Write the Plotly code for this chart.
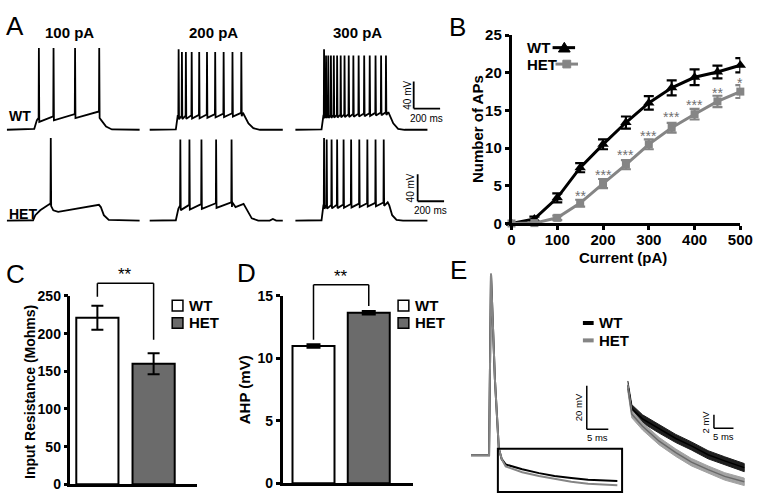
import numpy as np
import plotly.graph_objects as go

# ---------------- DATA ----------------
# Panel A: current-clamp traces (time in ms, membrane potential in mV)
# each trace: subthreshold envelope breakpoints + spike times + spike peaks
wt100_env_t = [0, 207, 227, 240, 697, 714, 751, 795, 1005]
wt100_env_v = [-72, -70.6, -57.7, -54.4, -44.9, -57.7, -67.2, -71.5, -72]
wt100_spk = [240, 351, 514, 697]
wt100_pk = [49, 49, 49, 49]

wt200_env_t = [0, 198, 212, 706, 724, 748, 785, 835, 1008]
wt200_env_v = [-72, -71.5, -51.5, -46.8, -53, -62.5, -69.6, -72, -72]
wt200_spk = [217, 242, 272, 316, 373, 432, 494, 558, 625, 692]
wt200_pk = [47, 43, 43, 43, 43, 43, 43, 43, 43, 43]

wt300_env_t = [0, 198, 212, 704, 716, 741, 778, 827, 1000]
wt300_env_v = [-72, -71.5, -51, -46, -51, -62.5, -70.6, -72, -72]
wt300_spk = [215, 230, 247, 267, 289, 314, 341, 370, 402, 437, 477, 519, 561, 605, 647, 684]
wt300_pk = [47] + [38] * 15

het100_env_t = [0, 198, 215, 252, 289, 326, 351, 388, 697, 711, 734, 771, 1005]
het100_env_v = [-72, -71.5, -64, -56.8, -52, -47.2, -56.8, -59, -48.7, -52, -64, -71, -72]
het100_spk = [330]
het100_pk = [50]

het200_env_t = [0, 198, 217, 230, 625, 650, 711, 736, 773, 822, 909, 933, 958, 1008]
het200_env_v = [-72, -71.5, -54.4, -49.6, -44.9, -52, -47.2, -56.8, -68.7, -72, -72, -69.6, -72, -72]
het200_spk = [230, 299, 390, 501, 618]
het200_pk = [48, 48, 48, 48, 48]

het300_env_t = [0, 198, 212, 699, 711, 733, 766, 815, 1000]
het300_env_v = [-72, -71.5, -49.6, -44.9, -49.6, -64, -71, -72, -72]
het300_spk = [215, 235, 272, 314, 363, 420, 482, 543, 605, 667]
het300_pk = [50] + [48] * 9

a_currents = ["100 pA", "200 pA", "300 pA"]
a_genotypes = ["WT", "HET"]

# Panel B: number of APs vs injected current
current_pA = [0, 50, 100, 150, 200, 250, 300, 350, 400, 450, 500]
wt_aps = [0, 0.6, 3.4, 7.4, 10.5, 13.4, 16.0, 18.0, 19.4, 20.1, 21.0]
wt_aps_err = [0, 0.3, 0.6, 0.6, 0.65, 0.8, 0.9, 1.0, 1.05, 0.85, 0.95]
het_aps = [0, 0.05, 0.75, 2.7, 5.3, 7.8, 10.5, 12.7, 14.5, 16.2, 17.5]
het_aps_err = [0, 0.1, 0.3, 0.45, 0.6, 0.6, 0.65, 0.65, 0.7, 0.75, 0.85]
sig_x = [150, 200, 250, 300, 350, 400, 450, 500]
sig_y = [4.2, 7.0, 9.6, 12.1, 14.6, 16.3, 17.8, 19.2]
sig_txt = ["**", "***", "***", "***", "***", "***", "**", "*"]

# Panel C: input resistance
groups = ["WT", "HET"]
rin = [221, 160]
rin_err = [16, 14]
# Panel D: AHP
ahp = [11.0, 13.65]
ahp_err = [0.12, 0.12]

# Panel E: averaged AP and AHP
e_t = [-4.2, 0, 0.45, 1.36, 2.27, 2.95, 3.86, 7.7, 11.6, 15.2, 19.1, 23, 29.8]
e_wt = [-60, -60, 23.5, -25, -56.9, -61.8, -64.2, -66.4, -68.2, -69.5, -70.4, -71.3, -71.8]
e_het = [-60, -60, 23.5, -25, -56.9, -61.8, -65.1, -67.8, -69.5, -70.9, -72.2, -73.1, -73.8]
z_t = [0, 0.5, 1, 3.75, 8, 12.25, 16.25, 20.5, 24.75, 29.75]
z_wt = [-60.6, -62.1, -64.1, -65.6, -67.1, -68.5, -69.6, -70.9, -71.8, -72.8]
z_het = [-61, -63, -64.9, -66.7, -68.9, -70.6, -72, -73.1, -74.1, -74.9]
z_wt_sem = 0.6
z_het_sem = 0.55

# ---------------- HELPERS ----------------
W, H = 768, 502
FONT = "Liberation Sans, Arial, sans-serif"
GRAY = "#858585"
BARGRAY = "#6b6b6b"


def xd(a, b):
    return [a / W, b / W]


def yd(top, bottom):
    return [1 - bottom / H, 1 - top / H]


def px(x):
    return x / W


def py(y):
    return 1 - y / H


def build(env_t, env_v, spikes, peaks, ahp_depth):
    pts = list(zip(env_t, env_v))
    for ts, pk in zip(spikes, peaks):
        v0 = float(np.interp(ts, env_t, env_v))
        v1 = float(np.interp(ts + 5, env_t, env_v)) - ahp_depth
        pts += [(ts, v0), (ts + 2, pk), (ts + 5, v1)]
    pts.sort(key=lambda p: p[0])
    return [p[0] for p in pts], [p[1] for p in pts]


fig = go.Figure()

# ---------------- PANEL A ----------------
traces_A = [
    (wt100_env_t, wt100_env_v, wt100_spk, wt100_pk, 6, "x", "y"),
    (wt200_env_t, wt200_env_v, wt200_spk, wt200_pk, 5, "x2", "y"),
    (wt300_env_t, wt300_env_v, wt300_spk, wt300_pk, 4, "x3", "y"),
    (het100_env_t, het100_env_v, het100_spk, het100_pk, 0, "x", "y2"),
    (het200_env_t, het200_env_v, het200_spk, het200_pk, 7, "x2", "y2"),
    (het300_env_t, het300_env_v, het300_spk, het300_pk, 5, "x3", "y2"),
]
for et, ev, sp, pk, dep, xa, ya in traces_A:
    t, v = build(et, ev, sp, pk, dep)
    fig.add_trace(go.Scatter(x=t, y=v, mode="lines", line=dict(color="black", width=1.8),
                             xaxis=xa, yaxis=ya, showlegend=False, hoverinfo="skip"))

# ---------------- PANEL B ----------------
fig.add_trace(go.Scatter(
    x=current_pA, y=wt_aps, mode="lines+markers",
    line=dict(color="black", width=3),
    marker=dict(symbol="triangle-up", size=10, color="black"),
    error_y=dict(type="data", array=wt_aps_err, color="black", thickness=2.2, width=5),
    xaxis="x4", yaxis="y3", showlegend=False, cliponaxis=False))
fig.add_trace(go.Scatter(
    x=current_pA, y=het_aps, mode="lines+markers",
    line=dict(color=GRAY, width=3),
    marker=dict(symbol="square", size=8, color=GRAY),
    error_y=dict(type="data", array=het_aps_err, color=GRAY, thickness=2.2, width=5),
    xaxis="x4", yaxis="y3", showlegend=False, cliponaxis=False))

# ---------------- PANEL C & D ----------------
fig.add_trace(go.Bar(
    x=[0, 1], y=rin, width=0.75,
    marker=dict(color=["white", BARGRAY], line=dict(color="black", width=2)),
    error_y=dict(type="data", array=rin_err, color="black", thickness=2, width=6),
    xaxis="x5", yaxis="y4", showlegend=False))
fig.add_trace(go.Bar(
    x=[0, 1], y=ahp, width=0.76,
    marker=dict(color=["white", BARGRAY], line=dict(color="black", width=2)),
    error_y=dict(type="data", array=ahp_err, color="black", thickness=2.5, width=7),
    xaxis="x6", yaxis="y5", showlegend=False))

# ---------------- PANEL E ----------------
fig.add_trace(go.Scatter(x=e_t, y=e_wt, mode="lines", line=dict(color="black", width=2),
                         xaxis="x7", yaxis="y6", showlegend=False))
fig.add_trace(go.Scatter(x=e_t, y=e_het, mode="lines", line=dict(color=GRAY, width=2),
                         xaxis="x7", yaxis="y6", showlegend=False))

for mean, sem, fillc, linec in [(z_wt, z_wt_sem, "#1e1e1e", "black"),
                                (z_het, z_het_sem, "#a2a2a2", "#6a6a6a")]:
    up = [m + sem for m in mean]
    lo = [m - sem for m in mean]
    fig.add_trace(go.Scatter(x=z_t + z_t[::-1], y=up + lo[::-1], fill="toself",
                             fillcolor=fillc, line=dict(color=fillc, width=1),
                             mode="lines", xaxis="x8", yaxis="y7", showlegend=False))
    fig.add_trace(go.Scatter(x=z_t, y=mean, mode="lines", line=dict(color=linec, width=1.5),
                             xaxis="x8", yaxis="y7", showlegend=False))

# ---------------- LAYOUT ----------------
hidden = dict(visible=False, showgrid=False, zeroline=False, fixedrange=True)


def axline(size):
    return dict(showline=True, linecolor="black", linewidth=2.5, showgrid=False, zeroline=False,
                ticks="outside", ticklen=4, tickwidth=2.5, tickcolor="black",
                tickfont=dict(size=size, color="black", family=FONT, weight="bold"), fixedrange=True)


a_range_x = [-22.2, 1148]
a_range_y = [-82, 66.6]
C_RANGE = [0, 250]
D_RANGE = [0, 15]
C_DOM = (297, 492)
D_DOM = (297, 491)

layout = dict(
    width=W, height=H, margin=dict(l=0, r=0, t=0, b=0),
    paper_bgcolor="white", plot_bgcolor="rgba(0,0,0,0)",
    font=dict(family=FONT, color="black"), barmode="overlay", showlegend=False,
    xaxis=dict(domain=xd(0, 158), range=a_range_x, anchor="y", **hidden),
    xaxis2=dict(domain=xd(146, 304), range=a_range_x, anchor="y", **hidden),
    xaxis3=dict(domain=xd(295, 453), range=a_range_x, anchor="y", **hidden),
    yaxis=dict(domain=yd(28, 132), range=a_range_y, anchor="x", **hidden),
    yaxis2=dict(domain=yd(122, 226), range=a_range_y, anchor="x", **hidden),
    xaxis4=dict(domain=xd(519, 753), range=[0, 500], anchor="y3", ticklabelstandoff=-3,
                tickvals=[0, 100, 200, 300, 400, 500], **axline(15)),
    yaxis3=dict(domain=yd(27, 222), range=[0, 25], anchor="x4",
                tickvals=[0, 5, 10, 15, 20, 25], **axline(15)),
    xaxis5=dict(domain=xd(68, 197), range=[-0.478, 1.765], anchor="y4", showline=True,
                linecolor="black", linewidth=2.5, showticklabels=False, ticks="",
                showgrid=False, zeroline=False, fixedrange=True),
    yaxis4=dict(domain=yd(*C_DOM), range=C_RANGE, anchor="x5",
                tickvals=[0, 50, 100, 150, 200, 250], **axline(14)),
    xaxis6=dict(domain=xd(285, 418), range=[-0.5575, 1.796], anchor="y5", showline=True,
                linecolor="black", linewidth=2.5, showticklabels=False, ticks="",
                showgrid=False, zeroline=False, fixedrange=True),
    yaxis5=dict(domain=yd(*D_DOM), range=D_RANGE, anchor="x6",
                tickvals=[0, 5, 10, 15], **axline(14)),
    xaxis7=dict(domain=xd(476, 640), range=[-4.55, 32.7], anchor="y6", **hidden),
    yaxis6=dict(domain=yd(265, 502), range=[-77.8, 27.5], anchor="x7", **hidden),
    xaxis8=dict(domain=xd(630, 768), range=[-2, 32.5], anchor="y7", **hidden),
    yaxis7=dict(domain=yd(370, 502), range=[-76.7, -57.86], anchor="x8", **hidden),
)
fig.update_layout(**layout)

shapes = []
ann = []


def label(x, y, text, size=15, bold=True, color="black", xanchor="center", angle=0, yshift=0):
    ann.append(dict(x=px(x), y=py(y), xref="paper", yref="paper", text=(f"<b>{text}</b>" if bold else text),
                    showarrow=False, xanchor=xanchor, yanchor="middle", textangle=angle, yshift=yshift,
                    font=dict(size=size, color=color, family=FONT)))


# Panel letters
for ch, x, y in [("A", 11, 18), ("B", 464, 19), ("C", 12, 274), ("D", 248, 273), ("E", 465, 270)]:
    label(x, y, ch, size=26, bold=False)

# Panel A labels
for name, x in zip(a_currents, [67, 214, 361]):
    label(x, 24, name, size=15)
label(3, 111, a_genotypes[0], size=14, xanchor="left")
label(3, 212, a_genotypes[1], size=14, xanchor="left")

# Panel A scale bars (40 mV / 200 ms)
for ya, bx, by in [("y", 896, -40.6), ("y2", 926, -43.4)]:
    shapes.append(dict(type="line", xref="x3", yref=ya, x0=bx, x1=bx, y0=by, y1=by + 40,
                       line=dict(color="black", width=1.8)))
    shapes.append(dict(type="line", xref="x3", yref=ya, x0=bx, x1=bx + 200, y0=by, y1=by,
                       line=dict(color="black", width=1.8)))
    ann.append(dict(x=bx, y=by + 20, xref="x3", yref=ya, text="40 mV", showarrow=False,
                    textangle=-90, xanchor="center", yanchor="middle", xshift=-7,
                    font=dict(size=10, family=FONT)))
    ann.append(dict(x=bx + 100, y=by, xref="x3", yref=ya, text="200 ms", showarrow=False,
                    xanchor="center", yanchor="top", yshift=-2,
                    font=dict(size=10, family=FONT)))

# Panel B labels & legend
label(633, 257, "Current (pA)", size=15)
label(485, 124, "Number of APs", size=15, angle=-90)
for sx, sy, st in zip(sig_x, sig_y, sig_txt):
    ann.append(dict(x=sx, y=sy, xref="x4", yref="y3", text=st, showarrow=False,
                    xanchor="center", yanchor="middle", yshift=-4,
                    font=dict(size=14, color="#707070", family=FONT)))
label(533, 40, "WT", size=15, xanchor="left")
label(533, 57, "HET", size=15, xanchor="left")
shapes.append(dict(type="line", xref="paper", yref="paper", x0=px(561), x1=px(584),
                   y0=py(40), y1=py(40), line=dict(color="black", width=3)))
shapes.append(dict(type="path", xref="paper", yref="paper",
                   path=f"M {px(567)},{py(44.5)} L {px(573)},{py(34.5)} L {px(579)},{py(44.5)} Z",
                   fillcolor="black", line=dict(color="black", width=1)))
shapes.append(dict(type="line", xref="paper", yref="paper", x0=px(564), x1=px(587),
                   y0=py(57), y1=py(57), line=dict(color=GRAY, width=3)))
shapes.append(dict(type="rect", xref="paper", yref="paper", x0=px(571.5), x1=px(579.5),
                   y0=py(61), y1=py(53), fillcolor=GRAY, line=dict(color=GRAY, width=1)))


# Panels C, D: titles, brackets, legends
def ypap(val, rng, dom):
    top, bottom = dom
    pyv = bottom - (val - rng[0]) / (rng[1] - rng[0]) * (bottom - top)
    return py(pyv)


label(26, 396, "Input Resistance (Mohms)", size=14, angle=-90)
label(246, 394, "AHP (mV)", size=15, angle=-90)

for xa, rng, dom, (lf, top, rf) in [("x5", C_RANGE, C_DOM, (249, 267, 192)),
                                   ("x6", D_RANGE, D_DOM, (11.5, 15.9, 14.2))]:
    for x0, x1, y0, y1 in [(0, 0, lf, top), (0, 1, top, top), (1, 1, top, rf)]:
        shapes.append(dict(type="line", xref=xa, yref="paper", x0=x0, x1=x1,
                           y0=ypap(y0, rng, dom), y1=ypap(y1, rng, dom),
                           line=dict(color="black", width=1.5)))
    ann.append(dict(x=0.5, y=ypap(top, rng, dom), xref=xa, yref="paper", text="**",
                    showarrow=False, xanchor="center", yanchor="bottom", yshift=-3,
                    font=dict(size=17, family=FONT)))

for bx, tx in [(172, 187), (403, 418)]:
    for yy, fillc, name in [(307, "white", groups[0]), (325, BARGRAY, groups[1])]:
        shapes.append(dict(type="rect", xref="paper", yref="paper", x0=px(bx), x1=px(bx + 11),
                           y0=py(yy + 5.5), y1=py(yy - 5.5), fillcolor=fillc,
                           line=dict(color="black", width=1.5)))
        label(tx, yy, name, size=15, xanchor="left")

# Panel E: zoom box, scale bars, legend
shapes.append(dict(type="rect", xref="x7", yref="y6", x0=2.05, x1=30.9, y0=-76.9, y1=-57.0,
                   line=dict(color="black", width=2)))
for xa, ya, bx, by, dv, dt, vlab in [("x7", "y6", 22.7, -48, 20, 5, "20 mV"),
                                     ("x8", "y7", 22, -67, 2, 5, "2 mV")]:
    shapes.append(dict(type="line", xref=xa, yref=ya, x0=bx, x1=bx, y0=by, y1=by + dv,
                       line=dict(color="black", width=1.5)))
    shapes.append(dict(type="line", xref=xa, yref=ya, x0=bx, x1=bx + dt, y0=by, y1=by,
                       line=dict(color="black", width=1.5)))
    ann.append(dict(x=bx, y=by + dv / 2, xref=xa, yref=ya, text=vlab, showarrow=False,
                    textangle=-90, xanchor="center", yanchor="middle", xshift=-8,
                    font=dict(size=9.5, family=FONT)))
    ann.append(dict(x=bx + dt / 2, y=by, xref=xa, yref=ya, text="5 ms", showarrow=False,
                    xanchor="center", yanchor="top", yshift=-1,
                    font=dict(size=9.5, family=FONT)))

for yy, col, name in [(325, "black", groups[0]), (343, GRAY, groups[1])]:
    shapes.append(dict(type="line", xref="paper", yref="paper", x0=px(592), x1=px(603),
                       y0=py(yy), y1=py(yy), line=dict(color=col, width=4)))
    label(606, yy, name, size=15, xanchor="left")

fig.update_layout(shapes=shapes, annotations=ann)
fig.write_html("out.html", config={"displayModeBar": False},
               post_script="document.body.style.margin='0px';document.body.style.overflow='hidden';")
